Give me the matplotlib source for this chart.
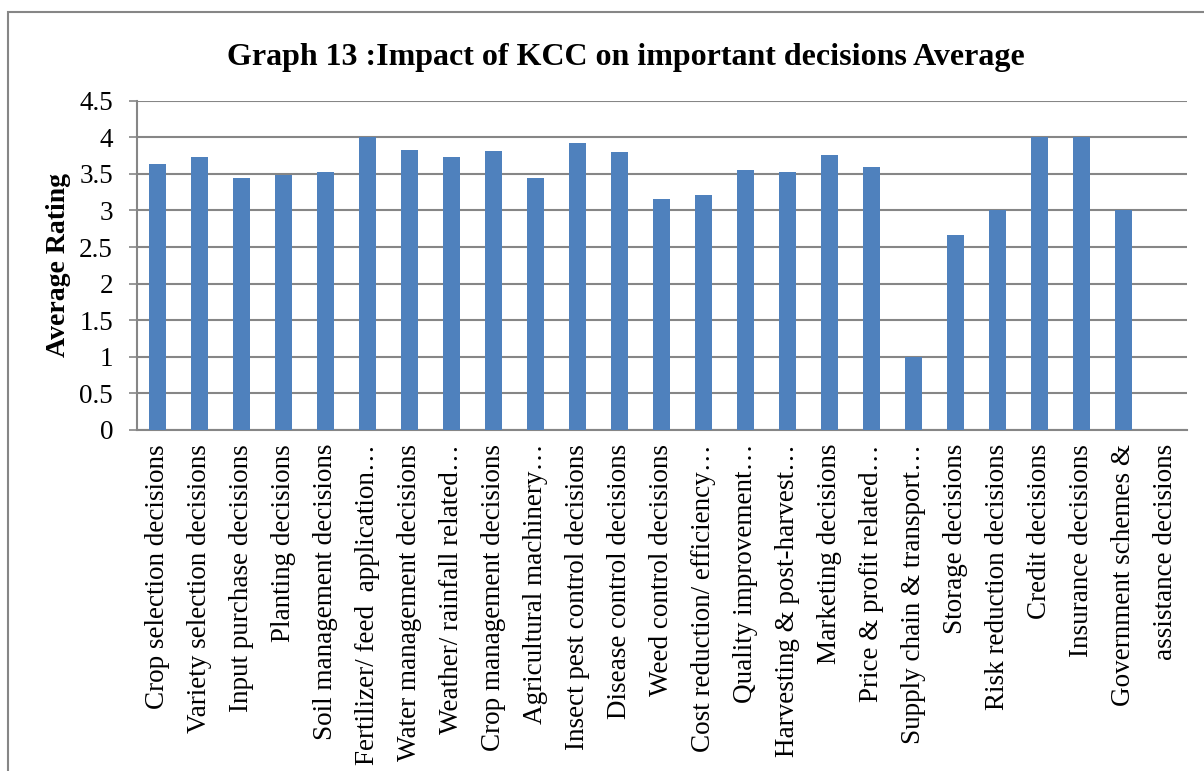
import matplotlib
matplotlib.use("Agg")
import matplotlib.pyplot as plt
import numpy as np

plt.rcParams['font.family'] = ['Liberation Serif', 'DejaVu Serif']

decisions = [
    "Crop selection decisions", "Variety selection decisions", "Input purchase decisions",
    "Planting decisions", "Soil management decisions", "Fertilizer/ feed  application\u2026",
    "Water management decisions", "Weather/ rainfall related\u2026", "Crop management decisions",
    "Agricultural machinery\u2026", "Insect pest control decisions", "Disease control decisions",
    "Weed control decisions", "Cost reduction/ efficiency\u2026", "Quality improvement\u2026",
    "Harvesting & post-harvest\u2026", "Marketing decisions", "Price & profit related\u2026",
    "Supply chain & transport\u2026", "Storage decisions", "Risk reduction decisions",
    "Credit decisions", "Insurance decisions", "Government schemes &", "assistance decisions",
]
avg_rating = [3.63, 3.73, 3.45, 3.48, 3.52, 4.0, 3.83, 3.73, 3.81, 3.45, 3.92, 3.80,
              3.16, 3.21, 3.55, 3.53, 3.76, 3.59, 1.0, 2.67, 3.0, 4.0, 4.0, 3.0, np.nan]

fig = plt.figure(figsize=(12.04, 7.71), dpi=100)
ax = fig.add_axes([0.1135, 0.4423, 0.8721, 0.4271])

x = np.arange(len(decisions))
ax.bar(x, avg_rating, width=0.39, color='#4F81BD', zorder=3)

ax.set_xlim(-0.5, len(decisions) - 0.5)
ax.set_ylim(0, 4.5)
ax.set_yticks(np.arange(0, 4.51, 0.5))
ax.set_yticklabels(['0', '0.5', '1', '1.5', '2', '2.5', '3', '3.5', '4', '4.5'], fontsize=19.5)
ax.yaxis.grid(True, color='#868686', linewidth=1.5, zorder=0)
ax.tick_params(axis='y', length=6, width=1.2, color='#868686', pad=11)

ax.set_xticks(x)
ax.set_xticklabels(decisions, rotation=90, fontsize=19.5, va='top', ha='center')
ax.tick_params(axis='x', length=0, pad=10)

for side in ['top', 'right']:
    ax.spines[side].set_visible(False)
ax.spines['left'].set_color('#868686')
ax.spines['left'].set_linewidth(1.5)
ax.spines['bottom'].set_color('#868686')
ax.spines['bottom'].set_linewidth(1.5)

ax.set_ylabel('Average Rating', fontsize=20, fontweight='bold', labelpad=6)
fig.text(0.52, 0.926, 'Graph 13 :Impact of KCC on important decisions Average',
         fontsize=23, fontweight='bold', ha='center', va='center')

# chart border (right and bottom run off the picture)
fig.patches.append(plt.Rectangle((8 / 1204, -0.05), 1.2, 1 - 12 / 771 + 0.05,
                                 transform=fig.transFigure, fill=False,
                                 edgecolor='#868686', linewidth=1.5))

fig.savefig('out.png', dpi=100)
